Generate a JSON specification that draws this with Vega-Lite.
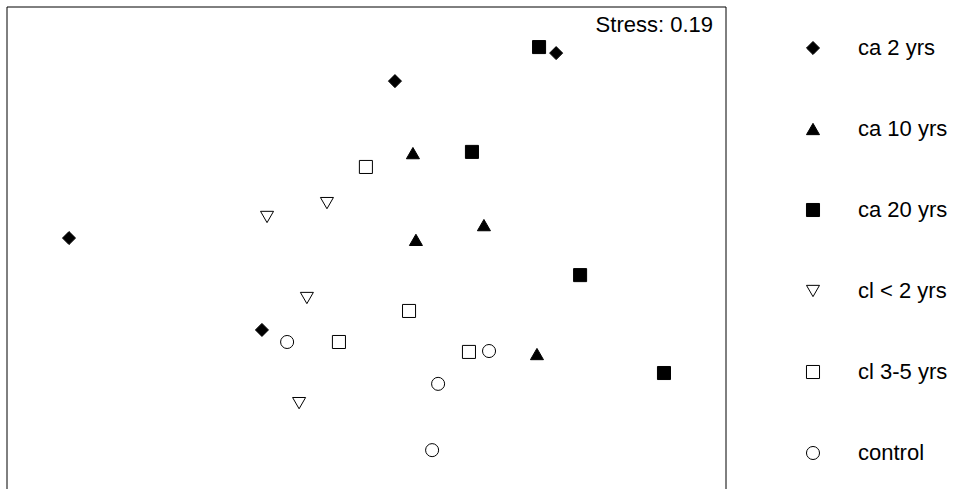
{
  "$schema": "https://vega.github.io/schema/vega-lite/v6.json",
  "width": 719,
  "height": 482,
  "autosize": {"type": "none"},
  "padding": {"left": 7, "top": 7, "right": 227, "bottom": 0},
  "background": "white",
  "config": {
    "view": {"stroke": null},
    "font": "Liberation Sans",
    "legend": {
      "orient": "none",
      "legendX": 795,
      "legendY": 30,
      "padding": 0,
      "title": null,
      "labelFont": "Liberation Sans",
      "labelFontSize": 22,
      "labelColor": "black",
      "labelOffset": 34,
      "rowPadding": 59,
      "symbolSize": 170,
      "symbolStrokeWidth": 1
    }
  },
  "datasets": {
    "points": [
      {"group": "ca 2 yrs", "NMDS1": -0.993, "NMDS2": 0.033},
      {"group": "ca 2 yrs", "NMDS1": 0.095, "NMDS2": 0.554},
      {"group": "ca 2 yrs", "NMDS1": 0.633, "NMDS2": 0.647},
      {"group": "ca 2 yrs", "NMDS1": -0.349, "NMDS2": -0.272},
      {"group": "ca 10 yrs", "NMDS1": 0.155, "NMDS2": 0.315},
      {"group": "ca 10 yrs", "NMDS1": 0.165, "NMDS2": 0.027},
      {"group": "ca 10 yrs", "NMDS1": 0.392, "NMDS2": 0.076},
      {"group": "ca 10 yrs", "NMDS1": 0.569, "NMDS2": -0.352},
      {"group": "ca 20 yrs", "NMDS1": 0.576, "NMDS2": 0.667},
      {"group": "ca 20 yrs", "NMDS1": 0.352, "NMDS2": 0.319},
      {"group": "ca 20 yrs", "NMDS1": 0.713, "NMDS2": -0.09},
      {"group": "ca 20 yrs", "NMDS1": 0.993, "NMDS2": -0.415},
      {"group": "cl < 2 yrs", "NMDS1": -0.332, "NMDS2": 0.103},
      {"group": "cl < 2 yrs", "NMDS1": -0.132, "NMDS2": 0.149},
      {"group": "cl < 2 yrs", "NMDS1": -0.199, "NMDS2": -0.166},
      {"group": "cl < 2 yrs", "NMDS1": -0.225, "NMDS2": -0.515},
      {"group": "cl 3-5 yrs", "NMDS1": -0.002, "NMDS2": 0.269},
      {"group": "cl 3-5 yrs", "NMDS1": 0.142, "NMDS2": -0.209},
      {"group": "cl 3-5 yrs", "NMDS1": -0.092, "NMDS2": -0.312},
      {"group": "cl 3-5 yrs", "NMDS1": 0.342, "NMDS2": -0.345},
      {"group": "control", "NMDS1": -0.265, "NMDS2": -0.312},
      {"group": "control", "NMDS1": 0.409, "NMDS2": -0.342},
      {"group": "control", "NMDS1": 0.239, "NMDS2": -0.451},
      {"group": "control", "NMDS1": 0.219, "NMDS2": -0.671}
    ]
  },
  "layer": [
    {
      "data": {"values": [{}]},
      "mark": {"type": "rule", "color": "black", "strokeWidth": 1},
      "encoding": {
        "x": {"datum": -1.2, "type": "quantitative", "scale": {"domain": [-1.2, 1.2], "nice": false, "zero": false}, "axis": null}
      }
    },
    {
      "data": {"values": [{}]},
      "mark": {"type": "rule", "color": "black", "strokeWidth": 1},
      "encoding": {
        "x": {"datum": 1.2, "type": "quantitative", "scale": {"domain": [-1.2, 1.2], "nice": false, "zero": false}, "axis": null}
      }
    },
    {
      "data": {"values": [{}]},
      "mark": {"type": "rule", "color": "black", "strokeWidth": 1},
      "encoding": {
        "y": {"datum": 0.8, "type": "quantitative", "scale": {"domain": [-0.8, 0.8], "nice": false, "zero": false}, "axis": null}
      }
    },
    {
      "data": {"values": [{}]},
      "mark": {"type": "text", "text": "Stress: 0.19", "align": "right", "baseline": "alphabetic", "dx": -13, "dy": 25, "fontSize": 22, "font": "Liberation Sans", "color": "black"},
      "encoding": {
        "x": {"datum": 1.2, "type": "quantitative", "scale": {"domain": [-1.2, 1.2], "nice": false, "zero": false}, "axis": null},
        "y": {"datum": 0.8, "type": "quantitative", "scale": {"domain": [-0.8, 0.8], "nice": false, "zero": false}, "axis": null}
      }
    },
    {
      "data": {"name": "points"},
      "mark": {"type": "point", "filled": true, "strokeWidth": 1, "opacity": 1, "size": 170},
      "encoding": {
        "x": {"field": "NMDS1", "type": "quantitative", "scale": {"domain": [-1.2, 1.2], "nice": false, "zero": false}, "axis": null},
        "y": {"field": "NMDS2", "type": "quantitative", "scale": {"domain": [-0.8, 0.8], "nice": false, "zero": false}, "axis": null},
        "shape": {
          "field": "group", "type": "nominal",
          "scale": {"domain": ["ca 2 yrs", "ca 10 yrs", "ca 20 yrs", "cl < 2 yrs", "cl 3-5 yrs", "control"],
                    "range": ["diamond", "triangle-up", "square", "triangle-down", "square", "circle"]}
        },
        "fill": {
          "field": "group", "type": "nominal",
          "scale": {"domain": ["ca 2 yrs", "ca 10 yrs", "ca 20 yrs", "cl < 2 yrs", "cl 3-5 yrs", "control"],
                    "range": ["black", "black", "black", "white", "white", "white"]}
        },
        "stroke": {
          "field": "group", "type": "nominal",
          "scale": {"domain": ["ca 2 yrs", "ca 10 yrs", "ca 20 yrs", "cl < 2 yrs", "cl 3-5 yrs", "control"],
                    "range": ["black", "black", "black", "black", "black", "black"]}
        }
      }
    }
  ]
}
